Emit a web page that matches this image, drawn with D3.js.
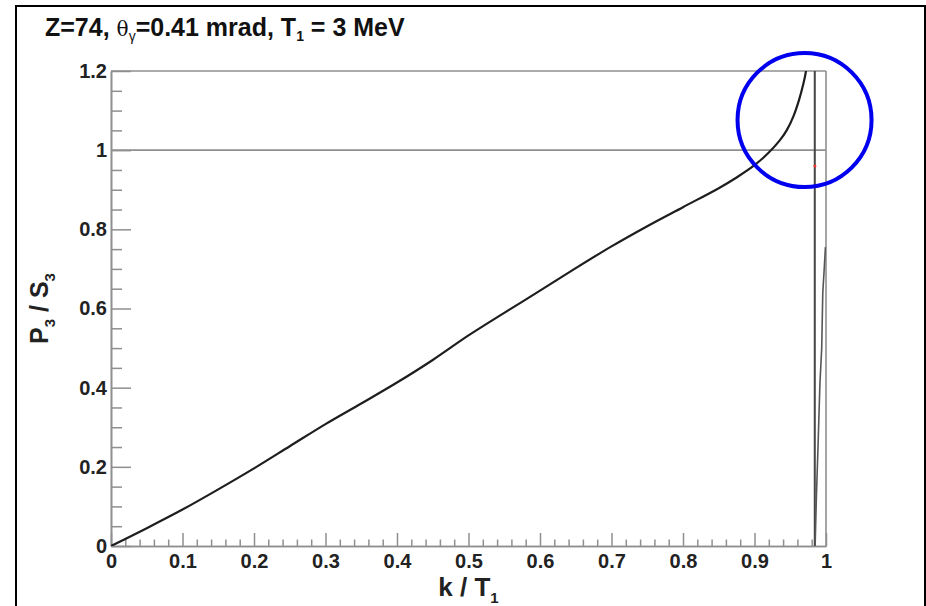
<!DOCTYPE html>
<html>
<head>
<meta charset="utf-8">
<script src="https://cdn.jsdelivr.net/npm/d3@7"></script>
<style>
  body { margin: 0; background: #fff; }
  svg { display: block; font-family: "Liberation Sans", Arial, Helvetica, sans-serif; font-weight: bold; }
</style>
</head>
<body>
<svg id="chart" width="926" height="606"></svg>
<script>
// main branch of P3/S3 vs k/T1
const kMain = [0, 0.05, 0.1, 0.15, 0.2, 0.25, 0.3, 0.35, 0.4, 0.45, 0.5, 0.55, 0.6, 0.65, 0.7, 0.75, 0.8, 0.85, 0.875, 0.9, 0.92, 0.935, 0.945, 0.955, 0.962, 0.968, 0.972, 0.975];
const ratioMain = [0, 0.045, 0.092, 0.143, 0.196, 0.252, 0.308, 0.36, 0.413, 0.47, 0.532, 0.589, 0.645, 0.702, 0.757, 0.808, 0.856, 0.904, 0.931, 0.962, 0.994, 1.024, 1.05, 1.088, 1.125, 1.165, 1.2, 1.26];

// jump near the endpoint and the second branch
const kPole = [0.9843, 0.9843];
const ratioPole = [1.25, -0.05];
const kBranch = [0.9845, 0.9865, 0.989, 0.9915, 0.994, 0.9955, 0.9975, 0.9992];
const ratioBranch = [-0.02, 0.12, 0.26, 0.41, 0.5, 0.64, 0.7, 0.755];

// lone red marker
const kMarker = [0.9845];
const ratioMarker = [0.96];

const xTicks = [0, 0.1, 0.2, 0.3, 0.4, 0.5, 0.6, 0.7, 0.8, 0.9, 1];
const xLabels = ["0", "0.1", "0.2", "0.3", "0.4", "0.5", "0.6", "0.7", "0.8", "0.9", "1"];
const yTicks = [0, 0.2, 0.4, 0.6, 0.8, 1, 1.2];
const yLabels = ["0", "0.2", "0.4", "0.6", "0.8", "1", "1.2"];

const width = 926;
const height = 606;
const margin = { top: 71, right: 100, bottom: 60, left: 111 };
const gray = "#8f8f8f";

const svg = d3.select("#chart");

const x = d3.scaleLinear().domain([0, 1]).range([margin.left, width - margin.right]);
const y = d3.scaleLinear().domain([0, 1.2]).range([height - margin.bottom, margin.top]);

// outer box
svg.append("rect")
  .attr("x", 16).attr("y", 6)
  .attr("width", 909).attr("height", 640)
  .attr("fill", "none")
  .attr("stroke", "#000")
  .attr("stroke-width", 2);

// title
const title = svg.append("text")
  .attr("x", 45).attr("y", 36)
  .attr("font-size", 25)
  .attr("fill", "#111");
title.append("tspan").text("Z=74, ");
title.append("tspan").attr("font-family", "DejaVu Serif, serif").attr("font-weight", "normal").attr("font-size", 20).text("θ");
title.append("tspan").attr("font-size", 14).attr("dy", 5).attr("font-weight", "normal").text("γ");
title.append("tspan").attr("dy", -5).text("=0.41 mrad, T");
title.append("tspan").attr("font-size", 14).attr("dy", 5).text("1");
title.append("tspan").attr("dy", -5).text(" = 3 MeV");

// frame: top and right edges + reference line
const frame = svg.append("g").attr("stroke", gray).attr("stroke-width", 1.6).attr("fill", "none");
frame.append("line").attr("x1", x(0)).attr("x2", x(1)).attr("y1", y(1.2)).attr("y2", y(1.2));
frame.append("line").attr("x1", x(1)).attr("x2", x(1)).attr("y1", y(1.2)).attr("y2", y(0));
frame.append("line").attr("x1", x(0)).attr("x2", x(1)).attr("y1", y(1)).attr("y2", y(1));

// axes
const xMinor = d3.range(0, 1.0001, 0.02).filter((d) => Math.abs(d * 10 - Math.round(d * 10)) > 1e-6);
const yMinor = d3.range(0, 1.2001, 0.05).filter((d) => Math.abs(d * 5 - Math.round(d * 5)) > 1e-6);

function styleAxis(g) {
  g.select(".domain").attr("stroke", gray).attr("stroke-width", 1.6);
  g.selectAll(".tick line").attr("stroke", gray).attr("stroke-width", 1.5);
  g.selectAll(".tick text").attr("fill", "#222").attr("font-size", 20).attr("font-family", null).attr("font-weight", "bold");
}

svg.append("g")
  .attr("transform", `translate(0,${y(0)})`)
  .call(d3.axisBottom(x).tickValues(xMinor).tickSize(-6.5).tickSizeOuter(0).tickFormat(""))
  .call(styleAxis);

svg.append("g")
  .attr("transform", `translate(0,${y(0)})`)
  .call(d3.axisBottom(x).tickValues(xTicks).tickSize(-13).tickSizeOuter(0).tickPadding(8)
    .tickFormat((d, i) => xLabels[i]))
  .call(styleAxis);

svg.append("g")
  .attr("transform", `translate(${x(0)},0)`)
  .call(d3.axisLeft(y).tickValues(yMinor).tickSize(-11).tickSizeOuter(0).tickFormat(""))
  .call(styleAxis);

svg.append("g")
  .attr("transform", `translate(${x(0)},0)`)
  .call(d3.axisLeft(y).tickValues(yTicks).tickSize(-20).tickSizeOuter(0).tickPadding(4)
    .tickFormat((d, i) => yLabels[i]))
  .call(styleAxis);

// axis titles
const xTitle = svg.append("text")
  .attr("x", (x(0) + x(1)) / 2).attr("y", 596)
  .attr("text-anchor", "middle")
  .attr("font-size", 26)
  .attr("fill", "#222");
xTitle.append("tspan").text("k / T");
xTitle.append("tspan").attr("font-size", 15).attr("dy", 7).text("1");

const yTitle = svg.append("text")
  .attr("transform", `translate(48,${(y(0) + y(1.2)) / 2}) rotate(-90)`)
  .attr("text-anchor", "middle")
  .attr("font-size", 25)
  .attr("fill", "#222");
yTitle.append("tspan").text("P");
yTitle.append("tspan").attr("font-size", 15).attr("dy", 7).text("3");
yTitle.append("tspan").attr("dy", -7).text(" / S");
yTitle.append("tspan").attr("font-size", 15).attr("dy", 7).text("3");

// curves, clipped to the frame
svg.append("clipPath").attr("id", "plot-clip")
  .append("rect")
  .attr("x", x(0)).attr("y", y(1.2))
  .attr("width", x(1) - x(0)).attr("height", y(0) - y(1.2));

const plot = svg.append("g").attr("clip-path", "url(#plot-clip)");

const smoothLine = d3.line()
  .x((d) => x(d[0]))
  .y((d) => y(d[1]))
  .curve(d3.curveCatmullRom.alpha(0.5));

const straightLine = d3.line()
  .x((d) => x(d[0]))
  .y((d) => y(d[1]));

plot.append("path")
  .datum(d3.zip(kMain, ratioMain))
  .attr("d", smoothLine)
  .attr("fill", "none")
  .attr("stroke", "#1e1e1e")
  .attr("stroke-width", 2.2);

plot.append("path")
  .datum(d3.zip(kPole, ratioPole))
  .attr("d", straightLine)
  .attr("fill", "none")
  .attr("stroke", "#444")
  .attr("stroke-width", 2);

plot.append("path")
  .datum(d3.zip(kBranch, ratioBranch))
  .attr("d", straightLine)
  .attr("fill", "none")
  .attr("stroke", "#555")
  .attr("stroke-width", 1.6);

plot.selectAll("circle.marker")
  .data(d3.zip(kMarker, ratioMarker))
  .enter()
  .append("circle")
  .attr("class", "marker")
  .attr("cx", (d) => x(d[0]))
  .attr("cy", (d) => y(d[1]))
  .attr("r", 1.5)
  .attr("fill", "#ff3030");

// highlight ring
svg.append("circle")
  .attr("cx", x(0.97))
  .attr("cy", y(1.076))
  .attr("r", 67)
  .attr("fill", "none")
  .attr("stroke", "#0000ee")
  .attr("stroke-width", 4);
</script>
</body>
</html>
